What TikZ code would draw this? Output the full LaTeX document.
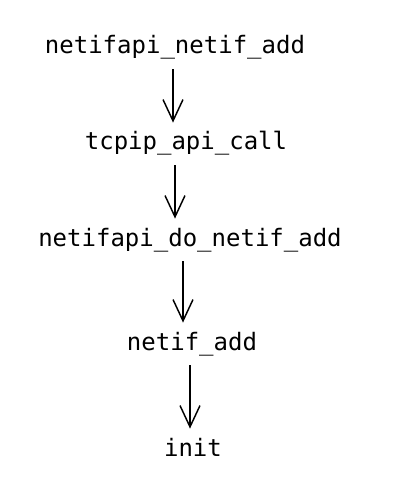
\documentclass[tikz,border=0pt]{standalone}
\usepackage{fontspec}
\setmonofont{DejaVu Sans Mono}
\usetikzlibrary{arrows.meta}
\tikzset{
->,
>={Straight Barb[length=16pt,width=15pt]},
node distance=72pt,
every node/.style={font=\ttfamily\fontsize{18}{20}\selectfont, inner sep=5pt, text height=13pt, text depth=4pt},
shorten >=2pt,
shorten <=2pt,
}

\begin{document}
\begin{tikzpicture}[line width=1.1pt]
        \useasboundingbox (-131.25pt,36pt) rectangle (180pt,-338.25pt);

        \node (netifapi) at (0,0) {netifapi\_netif\_add};
        \node[below of=netifapi, xshift=8.25pt] (tcpipcall) {tcpip\_api\_call};
        \node[below of=tcpipcall, xshift=3pt] (donetif) {netifapi\_do\_netif\_add};
        \node[below of=donetif, xshift=1.5pt, yshift=-6pt] (netifadd) {netif\_add};
        \node[below of=netifadd, xshift=0.75pt, yshift=-7.5pt] (init) {init};

        \draw ([xshift=-1.5pt]netifapi.south) -- ([xshift=-1.5pt]netifapi.south |- tcpipcall.north);
        \draw (tcpipcall.south -| netifapi) -- (donetif.north -| netifapi);
        \draw ([xshift=-5.25pt]donetif.south) -- ([xshift=-5.25pt]donetif.south |- netifadd.north);
        \draw ([xshift=-1.5pt]netifadd.south) -- ([xshift=-1.5pt]netifadd.south |- init.north);
    \end{tikzpicture}
\end{document}
